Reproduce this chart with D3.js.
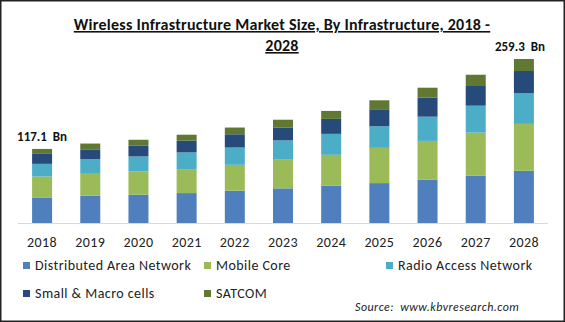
<!DOCTYPE html>
<html>
<head>
<meta charset="utf-8">
<script src="https://cdn.jsdelivr.net/npm/d3@7"></script>
<style>
  body { margin: 0; background: #fff; }
  svg { display: block; }
</style>
</head>
<body>
<svg id="chart" width="565" height="322"></svg>
<script>
// Years along the x axis
const years = ["2018", "2019", "2020", "2021", "2022", "2023", "2024", "2025", "2026", "2027", "2028"];

// Series values (USD Bn)
const distributedAreaNetwork = [40.4, 43.1, 44.7, 47.3, 51.0, 54.8, 58.9, 63.1, 68.3, 74.6, 82.5];
const mobileCore             = [33.1, 34.7, 36.8, 37.9, 41.0, 45.3, 48.9, 55.7, 61.5, 68.3, 74.2];
const radioAccessNetwork     = [20.0, 23.2, 23.7, 26.4, 27.3, 30.5, 33.1, 34.2, 38.3, 42.6, 48.4];
const smallMacroCells        = [15.8, 14.7, 16.9, 18.5, 21.0, 20.5, 23.7, 26.8, 30.0, 31.1, 35.2];
const satcom                 = [7.8, 9.9, 9.5, 9.5, 10.6, 12.2, 12.6, 14.2, 15.8, 17.8, 19.0];

const seriesNames = ["Distributed Area Network", "Mobile Core", "Radio Access Network", "Small & Macro cells", "SATCOM"];
const seriesValues = [distributedAreaNetwork, mobileCore, radioAccessNetwork, smallMacroCells, satcom];
const colors = ["#4f7fbc", "#9bbb59", "#4badc6", "#264b7b", "#617833"];

// Labels on the first and last bar
const endLabels = [{ year: "2018", text: "117.1  Bn" }, { year: "2028", text: "259.3  Bn" }];

const svg = d3.select("#chart");
const font = "Calibri, Carlito, 'Liberation Sans', Arial, sans-serif";

// Build rows for the stack
const rows = years.map((y, i) => {
    const r = { year: y };
    seriesNames.forEach((s, k) => { r[s] = seriesValues[k][i]; });
    return r;
});
const stacked = d3.stack().keys(seriesNames)(rows);

// Scales
const x = d3.scaleBand()
    .domain(years)
    .range([18, 548])
    .paddingInner(0.585)
    .paddingOuter(0.2925);

const y = d3.scaleLinear()
    .domain([0, 280])
    .range([223, 223 - 0.6325 * 280]);

// Outer border
svg.append("rect")
    .attr("x", 0.75).attr("y", 0.75)
    .attr("width", 563.5).attr("height", 320.5)
    .attr("fill", "none")
    .attr("stroke", "#222")
    .attr("stroke-width", 1.5);

// Title
const title = svg.append("text")
    .attr("text-anchor", "middle")
    .style("font-family", font)
    .style("font-size", "16px")
    .style("font-weight", "bold")
    .style("letter-spacing", "0.25px")
    .style("text-decoration", "underline")
    .attr("fill", "#111");
title.append("tspan").attr("x", 282).attr("y", 30)
    .text("Wireless Infrastructure Market Size, By Infrastructure, 2018 -");
title.append("tspan").attr("x", 282).attr("y", 51).text("2028");

// Bars
svg.append("g")
    .selectAll("g")
    .data(stacked)
    .join("g")
    .attr("fill", (d, i) => colors[i])
    .selectAll("rect")
    .data(d => d)
    .join("rect")
    .attr("x", d => x(d.data.year))
    .attr("width", x.bandwidth())
    .attr("y", d => y(d[1]))
    .attr("height", d => y(d[0]) - y(d[1]));

// Baseline / x axis
const xAxis = svg.append("g")
    .attr("transform", `translate(0, ${y(0)})`)
    .call(d3.axisBottom(x).tickSize(0).tickPadding(14));
xAxis.select(".domain").attr("stroke", "#d9d9d9").attr("d", "M18,0.5H548");
xAxis.selectAll("text")
    .style("font-family", font)
    .style("font-size", "14px")
    .style("letter-spacing", "0.4px")
    .attr("fill", "#222");

// Totals on first and last bar
const totals = rows.map(r => d3.sum(seriesNames, s => r[s]));
svg.selectAll(".end-label")
    .data(endLabels)
    .join("text")
    .attr("class", "end-label")
    .attr("x", d => d.year === "2018" ? x(d.year) - 15 : x(d.year) + x.bandwidth() + 11)
    .attr("y", d => y(totals[years.indexOf(d.year)]) - 8)
    .attr("text-anchor", d => d.year === "2018" ? "start" : "end")
    .style("font-family", font)
    .style("font-size", "13px")
    .style("font-weight", "bold")
    .style("white-space", "pre")
    .attr("fill", "#111")
    .text(d => d.text);

// Legend
const legendPos = [
    { x: 23, y: 262 }, { x: 204, y: 262 }, { x: 386, y: 262 },
    { x: 23, y: 290 }, { x: 204, y: 290 }
];
const legend = svg.append("g")
    .selectAll("g")
    .data(seriesNames)
    .join("g")
    .attr("transform", (d, i) => `translate(${legendPos[i].x}, ${legendPos[i].y})`);

legend.append("rect")
    .attr("width", 7).attr("height", 7)
    .attr("y", 0)
    .attr("fill", (d, i) => colors[i]);

legend.append("text")
    .attr("x", 12)
    .attr("y", 8)
    .style("font-family", font)
    .style("font-size", "14px")
    .style("letter-spacing", "0.45px")
    .attr("fill", "#222")
    .text(d => d);

// Source
svg.append("text")
    .attr("x", 355).attr("y", 311)
    .style("font-family", font)
    .style("font-size", "12px")
    .style("font-style", "italic")
    .style("letter-spacing", "0.45px")
    .style("white-space", "pre")
    .attr("fill", "#222")
    .text("Source:  www.kbvresearch.com");
</script>
</body>
</html>
